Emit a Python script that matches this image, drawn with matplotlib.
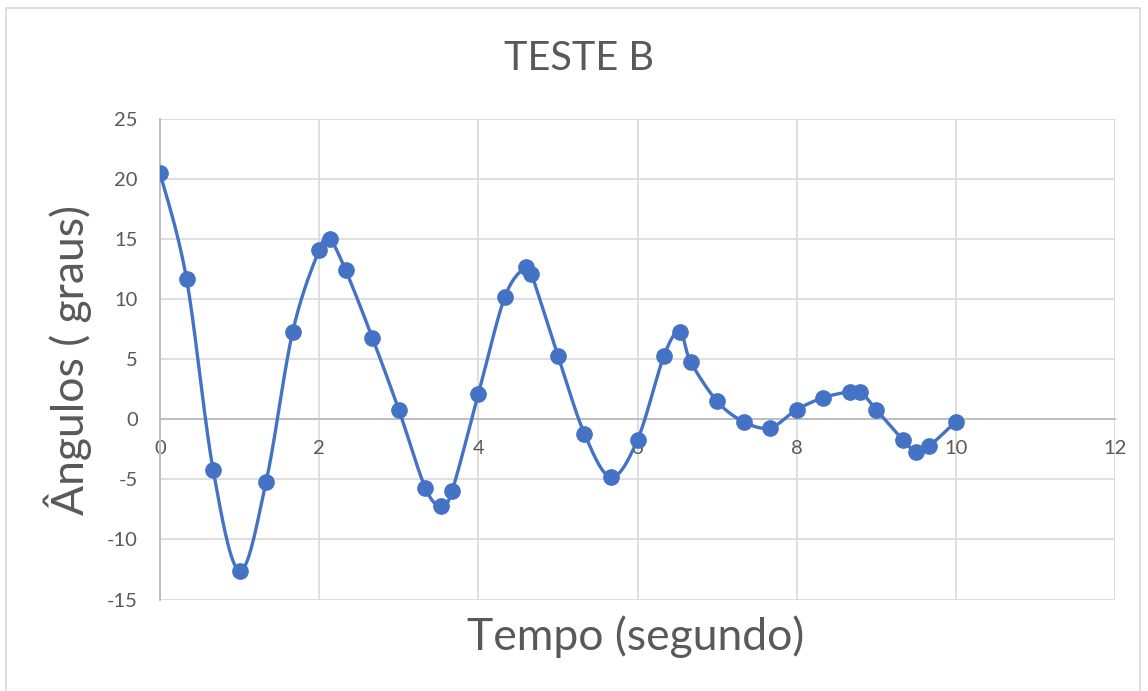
import numpy as np
import matplotlib
matplotlib.use('Agg')
import matplotlib.pyplot as plt
from matplotlib.patches import Rectangle

# tempo (s) e angulo medido (graus) - teste B
tempo = [0, 0.333, 0.667, 1.0, 1.333, 1.667, 2.0, 2.13, 2.333, 2.667,
         3.0, 3.333, 3.53, 3.667, 4.0, 4.333, 4.6, 4.667, 5.0, 5.333,
         5.667, 6.0, 6.333, 6.53, 6.667, 7.0, 7.333, 7.667, 8.0, 8.333,
         8.667, 8.8, 9.0, 9.333, 9.5, 9.667, 10.0]
angulo = [20.5, 11.7, -4.2, -12.6, -5.2, 7.3, 14.1, 15.0, 12.4, 6.8,
          0.8, -5.7, -7.2, -6.0, 2.1, 10.2, 12.7, 12.1, 5.3, -1.2,
          -4.8, -1.7, 5.3, 7.3, 4.8, 1.5, -0.2, -0.7, 0.8, 1.8,
          2.3, 2.3, 0.8, -1.7, -2.7, -2.2, -0.2]

titulo = 'TESTE B'
xlabel = 'Tempo (segundo)'
ylabel = 'Ângulos ( graus)'
xticks = [0, 2, 4, 6, 8, 10, 12]
yticks = [-15, -10, -5, 0, 5, 10, 15, 20, 25]

AZUL = '#4472C4'
CINZA = '#595959'


def suaviza(x, y, n=20):
    # curva tipo Excel: bezier com pontos de controle de Catmull-Rom
    x = np.asarray(x, float)
    y = np.asarray(y, float)
    px = np.concatenate([[x[0]], x, [x[-1]]])
    py = np.concatenate([[y[0]], y, [y[-1]]])
    t = np.linspace(0, 1, n)[:-1]
    xs, ys = [], []
    for i in range(1, len(px) - 2):
        p0 = np.array([px[i], py[i]])
        p3 = np.array([px[i + 1], py[i + 1]])
        c1 = p0 + (p3 - np.array([px[i - 1], py[i - 1]])) / 6.0
        c2 = p3 - (np.array([px[i + 2], py[i + 2]]) - p0) / 6.0
        b = ((1 - t) ** 3)[:, None] * p0 + (3 * (1 - t) ** 2 * t)[:, None] * c1 \
            + (3 * (1 - t) * t ** 2)[:, None] * c2 + (t ** 3)[:, None] * p3
        xs.append(b[:, 0])
        ys.append(b[:, 1])
    xs.append([x[-1]])
    ys.append([y[-1]])
    return np.concatenate(xs), np.concatenate(ys)


plt.rcParams['font.family'] = ['Lato', 'DejaVu Sans']
plt.rcParams['axes.unicode_minus'] = False

fig = plt.figure(figsize=(11.48, 6.91), dpi=100)
ax = fig.add_axes([0.1394, 0.1324, 0.8319, 0.6954])

# moldura externa do grafico
fig.patches.append(Rectangle((6 / 1148, -0.05), 1134 / 1148, 1.05 - 8 / 691,
                             transform=fig.transFigure, fill=False,
                             edgecolor='#d9d9d9', linewidth=1.2))

xs, ys = suaviza(tempo, angulo)
ax.plot(xs, ys, color=AZUL, linewidth=2.4, zorder=3)
ax.plot(tempo, angulo, 'o', color=AZUL, markersize=11, zorder=4)

ax.set_xlim(0, 12)
ax.set_ylim(-15, 25)
ax.set_xticks(xticks)
ax.set_yticks(yticks)
ax.grid(True, color='#d9d9d9', linewidth=1.2, zorder=0)
ax.set_axisbelow(True)

for s in ['top', 'right']:
    ax.spines[s].set_visible(False)
ax.spines['left'].set_color('#bfbfbf')
ax.spines['left'].set_linewidth(1.4)
ax.spines['bottom'].set_position(('data', 0))
ax.spines['bottom'].set_color('#bfbfbf')
ax.spines['bottom'].set_linewidth(1.4)
ax.tick_params(length=0, labelsize=14.5, colors=CINZA, pad=16)
ax.tick_params(axis='x', pad=15)

fig.text(0.504, 0.915, titulo, ha='center', va='center', fontsize=28.5, color=CINZA)
fig.text(0.554, 0.078, xlabel, ha='center', va='center', fontsize=32, color=CINZA)
fig.text(0.059, 0.479, ylabel, ha='center', va='center', fontsize=32,
         color=CINZA, rotation=90)

fig.savefig('out.png', dpi=100)
